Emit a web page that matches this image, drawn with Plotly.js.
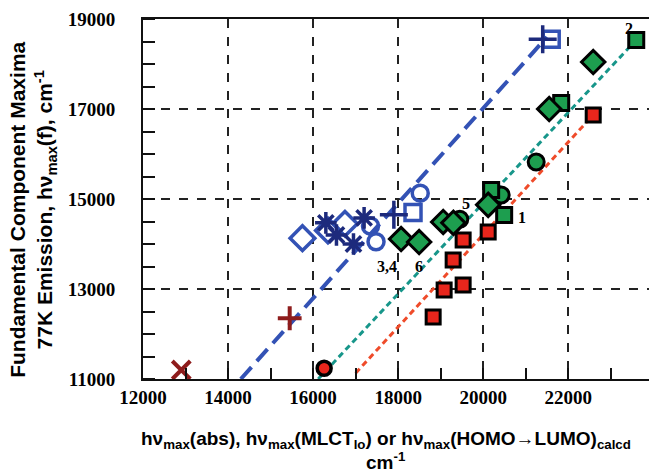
<!DOCTYPE html>
<html>
<head>
<meta charset="utf-8">
<script src="https://cdn.plot.ly/plotly-3.0.1.min.js"></script>
<style>html,body{margin:0;padding:0;background:#fff;}#chart{width:649px;height:473px;}</style>
</head>
<body>
<div id="chart"></div>
<script>
// ---- data ----
const fitBlueX = [14300, 21500];
const fitBlueY = [11000, 18600];
const fitTealX = [16120, 23600];
const fitTealY = [11000, 18533];
const fitRedX = [17000, 22588];
const fitRedY = [11130, 16867];

const darkRedXx = [12900];
const darkRedXy = [11200];
const darkRedPlusX = [15450];
const darkRedPlusY = [12350];

const openDiamondX = [15750, 16350, 16750];
const openDiamondY = [14130, 14300, 14450];
const navyAsteriskX = [16300, 16550, 16950, 17200];
const navyAsteriskY = [14470, 14200, 14000, 14580];
const openCircleX = [17350, 17480, 18520];
const openCircleY = [14400, 14050, 15130];
const openSquareX = [18350, 21600];
const openSquareY = [14700, 18550];
const navyPlusX = [17900, 21400];
const navyPlusY = [14650, 18550];

const greenDiamondX = [18070, 18494, 19060, 19300, 20118, 21553, 22588];
const greenDiamondY = [14110, 14044, 14490, 14470, 14870, 17000, 18044];
const greenSquareX = [20188, 20494, 21835, 23600];
const greenSquareY = [15200, 14644, 17133, 18533];
const greenCircleX = [19450, 20424, 21247];
const greenCircleY = [14550, 15089, 15822];
const redSquareX = [18824, 19082, 19294, 19529, 19529, 20118, 22588];
const redSquareY = [12378, 12978, 13644, 13089, 14089, 14267, 16867];
const redCircleX = [16260];
const redCircleY = [11240];

const labelText = ["1", "2", "3,4", "5", "6"];
const labelX = [20918, 23435, 17741, 19600, 18494];
const labelY = [14578, 18800, 13511, 14911, 13511];

const xTicks = [12000, 14000, 16000, 18000, 20000, 22000];
const yTicks = [11000, 13000, 15000, 17000, 19000];

// ---- styles ----
const BLUE = '#3352b5', NAVY = '#1d2a7c', TEAL = '#17968a', ORANGE = '#ef4b2a';
const GREEN = '#1d9e4f', RED = '#e8261c', DARKRED = '#8e1c1c';

function line(x, y, color, dash, width) {
  return {x, y, type: 'scatter', mode: 'lines', line: {color, dash, width}, hoverinfo: 'skip'};
}
function mk(x, y, symbol, size, color, lineColor, lineWidth) {
  return {x, y, type: 'scatter', mode: 'markers', cliponaxis: false,
    marker: {symbol, size, color, line: {color: lineColor, width: lineWidth}}};
}

const traces = [
  line(fitBlueX, fitBlueY, BLUE, '16px,8px', 4),
  line(fitTealX, fitTealY, TEAL, '6px,4px', 3),
  line(fitRedX, fitRedY, ORANGE, '6px,4px', 3),
  mk(darkRedXx, darkRedXy, 'x-thin-open', 18, DARKRED, DARKRED, 4),
  mk(darkRedPlusX, darkRedPlusY, 'cross-thin-open', 17, DARKRED, DARKRED, 4),
  mk(openDiamondX, openDiamondY, 'diamond-open', 19, BLUE, BLUE, 3.5),
  mk(openCircleX, openCircleY, 'circle-open', 16, BLUE, BLUE, 3.5),
  mk(openSquareX, openSquareY, 'square-open', 16, BLUE, BLUE, 3.5),
  mk(navyAsteriskX, navyAsteriskY, 'asterisk-open', 18, NAVY, NAVY, 3.5),
  mk(navyPlusX, navyPlusY, 'cross-thin-open', 20, NAVY, NAVY, 3.5),
  mk(greenCircleX, greenCircleY, 'circle', 16, GREEN, '#000', 3),
  mk(greenSquareX, greenSquareY, 'square', 15, GREEN, '#000', 3),
  mk(greenDiamondX, greenDiamondY, 'diamond', 18, GREEN, '#000', 3),
  mk(redSquareX, redSquareY, 'square', 14, RED, '#000', 3),
  mk(redCircleX, redCircleY, 'circle', 14, RED, '#000', 3.5)
];

const SERIF = 'Liberation Serif';
const SANS = 'Liberation Sans';
const tickFont = {family: SERIF, size: 19, color: '#000', weight: 'bold'};
const bold = v => '<b>' + v + '</b>';

const annotations = labelText.map((t, i) => ({
  x: labelX[i], y: labelY[i], xref: 'x', yref: 'y', text: bold(t), showarrow: false,
  font: {family: SERIF, size: 16, color: '#000'}
}));
annotations.push({
  xref: 'paper', yref: 'paper', x: 0.48, y: (379 - 440) / 360, xanchor: 'center', yanchor: 'middle',
  showarrow: false, font: {family: SANS, size: 19, color: '#000'},
  text: bold('hν<sub>max</sub>(abs), hν<sub>max</sub>(MLCT<sub>lo</sub>) or hν<sub>max</sub>(HOMO→LUMO)<sub>calcd</sub>')
});
annotations.push({
  xref: 'paper', yref: 'paper', x: 0.48, y: (379 - 461) / 360, xanchor: 'center', yanchor: 'middle',
  showarrow: false, font: {family: SANS, size: 19, color: '#000'},
  text: bold('cm<sup>-1</sup>')
});
annotations.push({
  xref: 'paper', yref: 'paper', x: (33 - 143) / 506, y: 0.47, xanchor: 'center', yanchor: 'middle',
  textangle: -90, showarrow: false, font: {family: SANS, size: 21, color: '#000'},
  text: bold('Fundamental Component Maxima') + '<br>' + bold('77K Emission, hν<sub>max</sub>(f), cm<sup>-1</sup>')
});

const layout = {
  width: 649, height: 473,
  margin: {l: 143, r: 0, t: 19, b: 94},
  paper_bgcolor: '#fff', plot_bgcolor: '#fff',
  font: {family: SERIF, size: 18, color: '#000'},
  showlegend: false,
  xaxis: {
    range: [12000, 23900], tickvals: xTicks, ticktext: xTicks.map(String),
    showgrid: true, gridcolor: '#222', griddash: 'dash', gridwidth: 1.5,
    showline: true, linecolor: '#111', linewidth: 2, mirror: true,
    ticks: 'inside', ticklen: 11, tickwidth: 2, tickcolor: '#111',
    minor: {dtick: 1000, tick0: 12000, ticks: 'inside', ticklen: 11, tickwidth: 2, tickcolor: '#111', showgrid: false},
    tickfont: tickFont, zeroline: false, automargin: false
  },
  yaxis: {
    range: [11000, 19000], tickvals: yTicks, ticktext: yTicks.map(String),
    showgrid: true, gridcolor: '#222', griddash: 'dash', gridwidth: 1.5,
    showline: true, linecolor: '#111', linewidth: 2, mirror: false,
    ticks: 'outside', ticklen: 12, tickwidth: 2, tickcolor: 'rgba(0,0,0,0)',
    ticklabelposition: 'outside', ticklabelstandoff: 10,
    minor: {dtick: 500, tick0: 11000, ticks: 'inside', ticklen: 12, tickwidth: 2, tickcolor: '#111', showgrid: false},
    tickfont: tickFont, zeroline: false, automargin: false
  },
  annotations
};

Plotly.newPlot('chart', traces, layout, {displayModeBar: false, staticPlot: true});
</script>
</body>
</html>
